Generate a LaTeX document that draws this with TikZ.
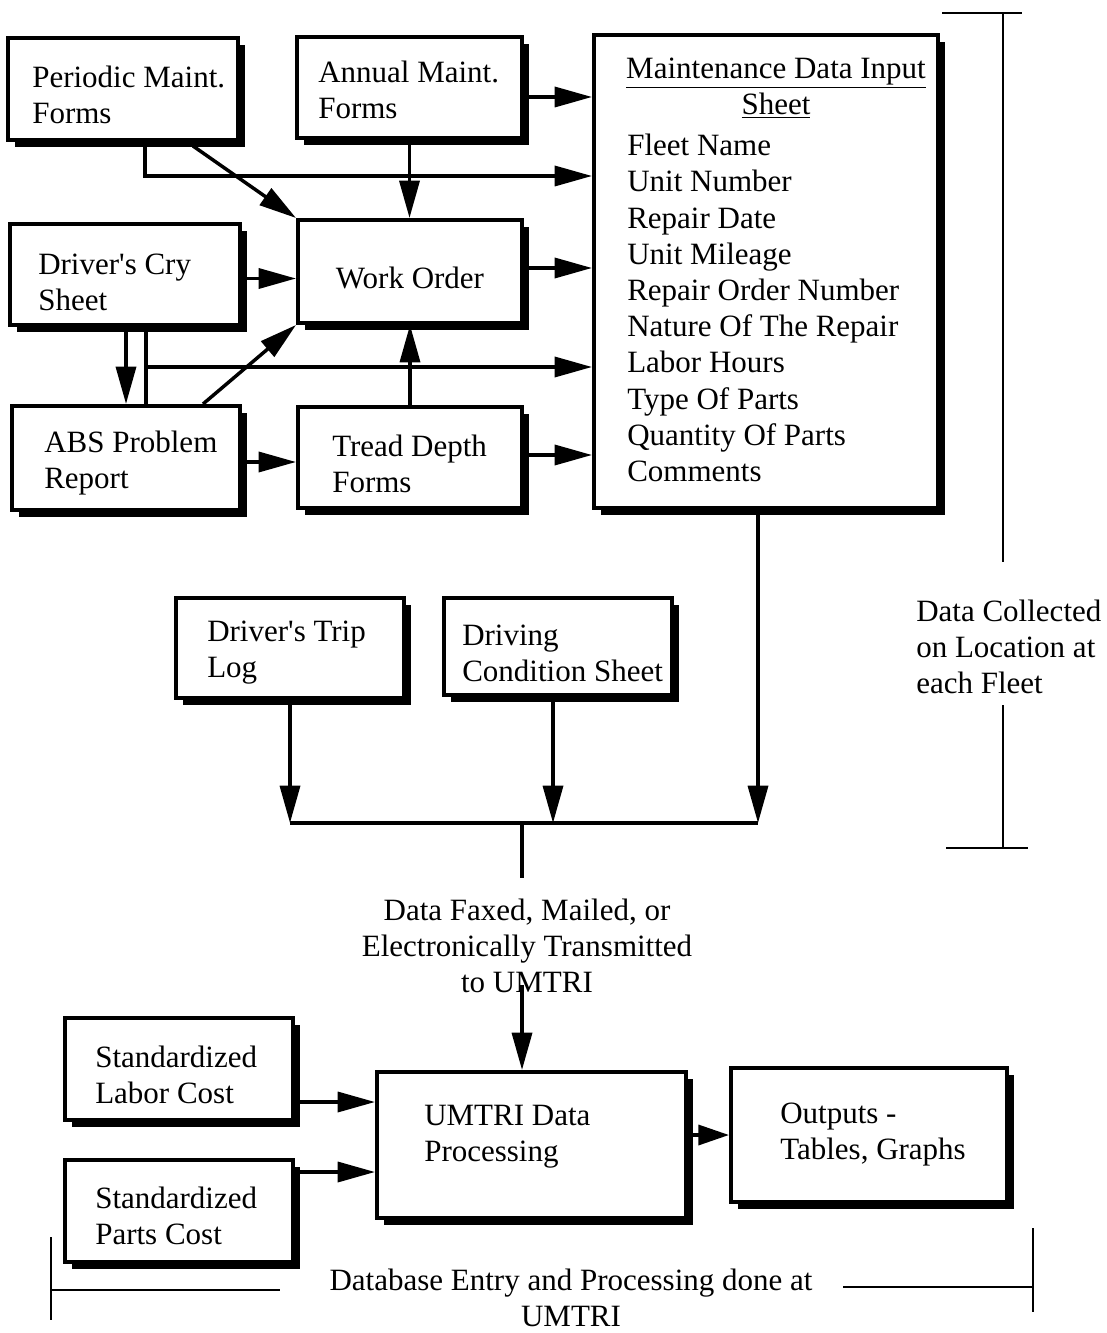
\documentclass[tikz,border=0pt]{standalone}
\usepackage{fontspec}
\setmainfont{Liberation Serif}
\usetikzlibrary{arrows.meta,calc,fit,shadows}
\begin{document}
\begin{tikzpicture}[x=0.75pt,y=-0.75pt,
  every node/.style={font=\fontsize{23.25pt}{27pt}\selectfont, inner sep=2pt},
  box/.style={draw, line width=3pt, fill=white, inner sep=0pt,
    general shadow={fill=black, shadow xshift=5.5pt, shadow yshift=-5.5pt}},
  lbl/.style={align=left, anchor=west, inner sep=0pt},
  ln/.style={line width=2.6pt},
  arr/.style={ln, -{Triangle[length=28pt,width=15pt]}},
  sarr/.style={ln, -{Triangle[length=23pt,width=15pt]}},
  brk/.style={line width=2.2pt}]
\useasboundingbox (0,0) rectangle (1106,1333);

% ---- boxes ----
\node (peri)  [box, fit={(8,38) (238,140)}] {};
\node (ann)   [box, fit={(297,37) (522,138)}] {};
\node (mdis)  [box, fit={(594,35) (938,508)}] {};
\node (cry)   [box, fit={(10,224) (240,325)}] {};
\node (wo)    [box, fit={(298,220) (522,323)}] {};
\node (abs)   [box, fit={(12,406) (240,510)}] {};
\node (tread) [box, fit={(298,407) (522,508)}] {};
\node (trip)  [box, fit={(176,598) (404,698)}] {};
\node (cond)  [box, fit={(444,598) (672,695)}] {};
\node (labor) [box, fit={(65,1018) (293,1120)}] {};
\node (parts) [box, fit={(65,1160) (293,1262)}] {};
\node (umtri) [box, fit={(377,1072) (686,1218)}] {};
\node (out)   [box, fit={(731,1068) (1007,1202)}] {};

% ---- texts ----
\node (perit)  [lbl] at (32,95)  {Periodic Maint.\\Forms};
\node (annt)   [lbl] at (318,90) {Annual Maint.\\Forms};
\node (mdish)  [align=center, inner sep=0pt] at (776,88) {\underline{Maintenance Data Input}\\\underline{Sheet}};
\node (mdisl)  [lbl, font=\fontsize{23.25pt}{27.15pt}\selectfont] at (627,308) {Fleet Name\\Unit Number\\Repair Date\\Unit Mileage\\Repair Order Number\\Nature Of The Repair\\Labor Hours\\Type Of Parts\\Quantity Of Parts\\Comments};
\node (cryt)   [lbl] at (38,282)  {Driver\textquotesingle s Cry\\Sheet};
\node (wot)    at (410,278) {Work Order};
\node (abst)   [lbl] at (44,463)  {ABS Problem\\Report};
\node (treadt) [lbl] at (332,464) {Tread Depth\\Forms};
\node (tript)  [lbl] at (207,653) {Driver\textquotesingle s Trip\\Log};
\node (condt)  [lbl] at (462,653) {Driving\\Condition Sheet};
\node (labort) [lbl] at (95,1075) {Standardized\\Labor Cost};
\node (partst) [lbl] at (95,1216) {Standardized\\Parts Cost};
\node (umtrit) [lbl] at (424,1137) {UMTRI Data\\Processing};
\node (outt)   [lbl] at (780,1135) {Outputs -\\Tables, Graphs};
\node (fax)    [align=center, inner sep=0pt] at (527,946) {Data Faxed, Mailed, or\\Electronically Transmitted\\to UMTRI};
\node (dcl)    [lbl] at (916,647) {Data Collected\\on Location at\\each Fleet};
\node (dbe)    [align=center, inner sep=0pt] at (571,1298) {Database Entry and Processing done at\\UMTRI};

% ---- connectors, upper part ----
\path ($(ann.east)+(0,9.5)$) coordinate (c1);
\draw[arr] (c1) -- (c1 -| mdis.west);
\draw[arr] ($(peri.south west)+(139,0)$) |- ($(mdis.north west)+(0,143)$);
\draw[arr] ($(peri.south west)+(187,4)$) -- (wo.north west);
\draw[arr] (ann.south) -- (ann.south |- wo.north);
\path ($(cry.east)+(0,4)$) coordinate (c2);
\draw[arr] (c2) -- (c2 -| wo.west);
\path ($(wo.east)+(0,-3.5)$) coordinate (c3);
\draw[arr] (c3) -- (c3 -| mdis.west);
\path ($(cry.south west)+(118,0)$) coordinate (c4);
\draw[arr] (c4) -- (c4 |- abs.north);
\path ($(cry.south west)+(138,0)$) coordinate (c5);
\draw[ln] (c5) -- (c5 |- abs.north);
\path ($(c5)+(0,40)$) coordinate (c6);
\draw[arr] (c6) -- (c6 -| mdis.west);
\draw[arr] ($(abs.north west)+(193,0)$) -- (wo.south west);
\draw[arr] (tread.north) -- (tread.north |- wo.south);
\path ($(abs.east)+(0,4)$) coordinate (c7);
\draw[arr] (c7) -- (c7 -| tread.west);
\path ($(tread.east)+(0,-2.5)$) coordinate (c8);
\draw[arr] (c8) -- (c8 -| mdis.west);

% ---- junction ----
\coordinate (j) at (522,823);
\path ($(mdis.south)+(-8,5)$) coordinate (c9);
\draw[arr] (c9) -- (c9 |- j);
\draw[arr] (trip.south) -- (trip.south |- j);
\path ($(cond.south)+(-5,0)$) coordinate (c10);
\draw[arr] (c10) -- (c10 |- j);
\draw[ln] (trip.south |- j) -- (c9 |- j);
\draw[ln] (j) -- ($(j)+(0,55)$);
\draw[arr] ($(j |- fax.south)+(0,-8)$) -- (j |- umtri.north);

% ---- connectors, lower part ----
\path ($(labor.east)+(0,33)$) coordinate (c11);
\draw[arr] (c11) -- (c11 -| umtri.west);
\path ($(parts.east)+(0,-39)$) coordinate (c12);
\draw[arr] (c12) -- (c12 -| umtri.west);
\path ($(umtri.east)+(0,-10)$) coordinate (c13);
\draw[sarr] (c13) -- (c13 -| out.west);

% ---- brackets ----
\coordinate (rt) at (1003,13);
\coordinate (rb) at (1003,848);
\draw[brk] (942,13) -- (1022,13);
\draw[brk] (rt) -- (1003,562);
\draw[brk] (1003,705) -- (rb);
\draw[brk] (946,848) -- (1028,848);

\coordinate (bl) at (51,1290);
\coordinate (br) at (1033,1287);
\draw[brk] (51,1237) -- (51,1320);
\draw[brk] (bl) -- (280,1290);
\draw[brk] (843,1287) -- (br);
\draw[brk] (1033,1228) -- (1033,1312);
\end{tikzpicture}
\end{document}
